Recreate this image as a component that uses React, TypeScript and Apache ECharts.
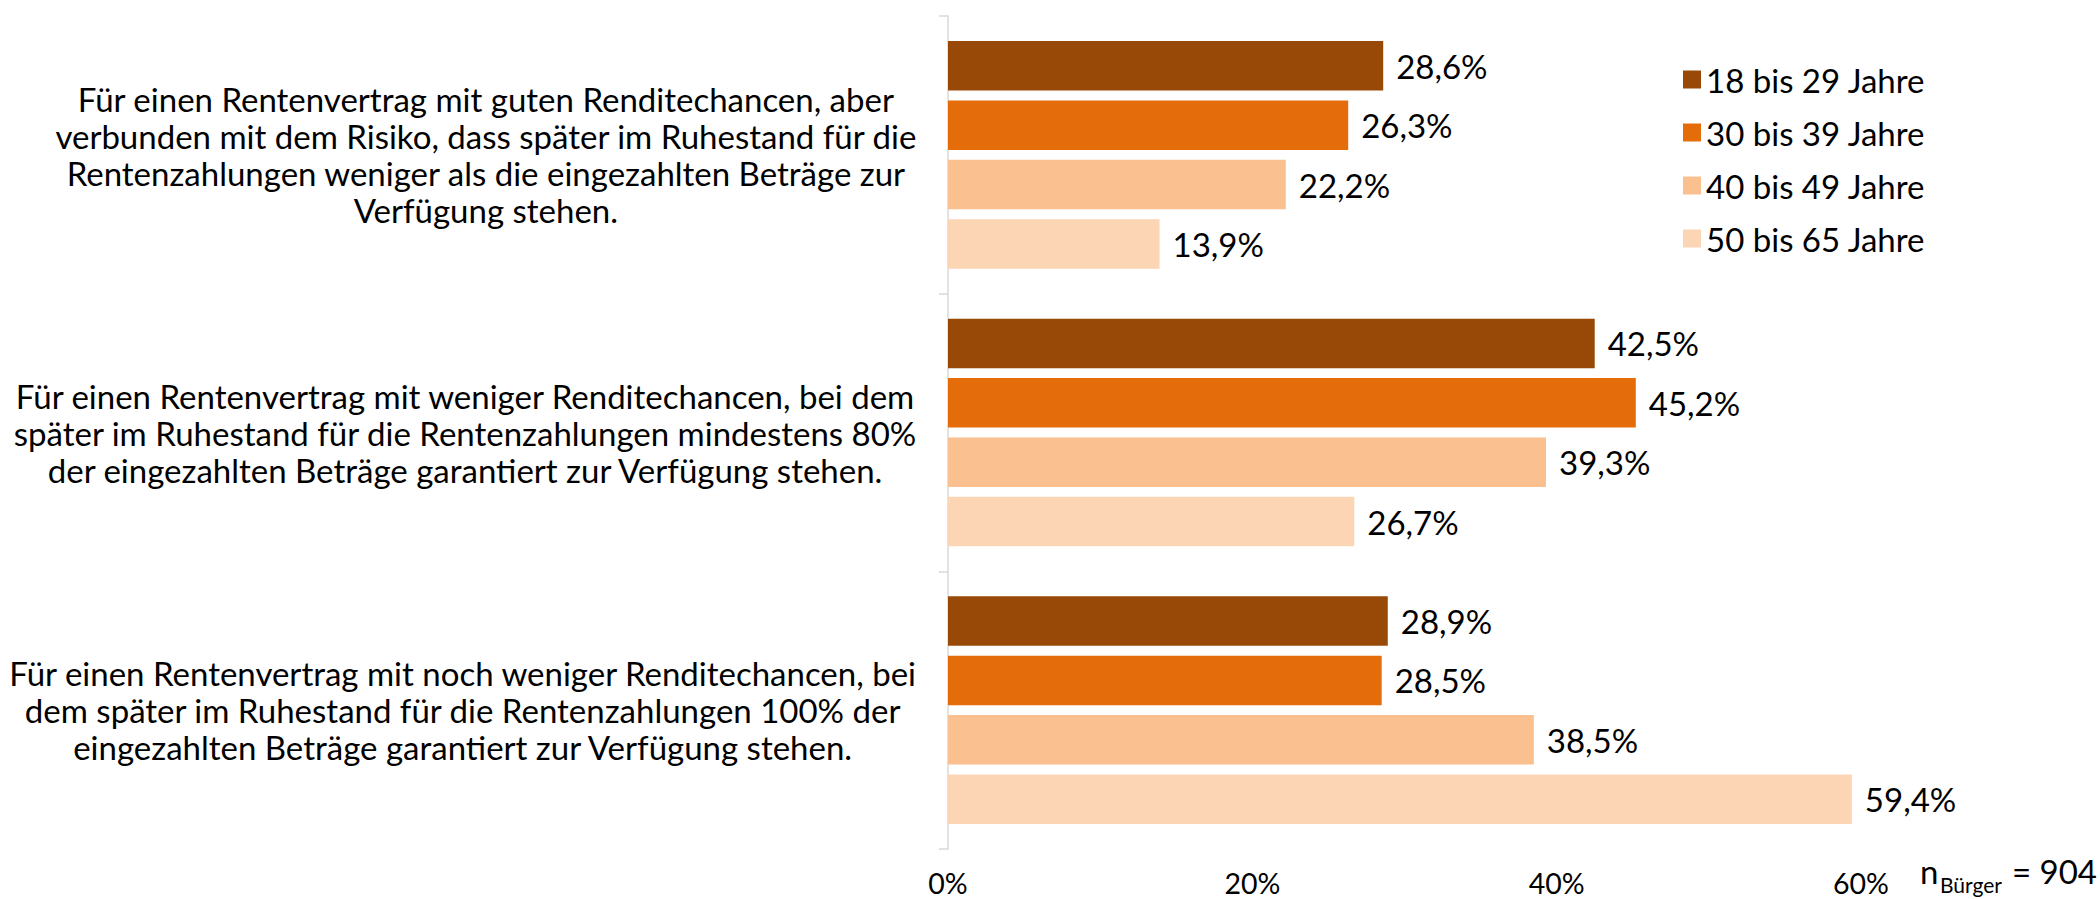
import React, { useEffect, useRef } from "react";
import * as echarts from "echarts";

const categories: string[] = [
  "Für einen Rentenvertrag mit guten Renditechancen, aber\nverbunden mit dem Risiko, dass später im Ruhestand für die\nRentenzahlungen weniger als die eingezahlten Beträge zur\nVerfügung stehen.",
  "Für einen Rentenvertrag mit weniger Renditechancen, bei dem\nspäter im Ruhestand für die Rentenzahlungen mindestens 80%\nder eingezahlten Beträge garantiert zur Verfügung stehen.",
  "Für einen Rentenvertrag mit noch weniger Renditechancen, bei\ndem später im Ruhestand für die Rentenzahlungen 100% der\neingezahlten Beträge garantiert zur Verfügung stehen.",
];

const seriesNames: string[] = ["18 bis 29 Jahre", "30 bis 39 Jahre", "40 bis 49 Jahre", "50 bis 65 Jahre"];
const age18to29: number[] = [28.6, 42.5, 28.9];
const age30to39: number[] = [26.3, 45.2, 28.5];
const age40to49: number[] = [22.2, 39.3, 38.5];
const age50to65: number[] = [13.9, 26.7, 59.4];
const seriesColors: string[] = ["#984807", "#E46C0A", "#FAC090", "#FCD5B5"];
const xTicks: number[] = [0, 20, 40, 60];
const sampleNote = { n: "n", sub: "Bürger", rest: "= 904" };

const FONT = "Lato";

export default function App() {
  const ref = useRef<HTMLDivElement>(null);
  useEffect(() => {
    if (!ref.current) return;
    const chart = echarts.init(ref.current, undefined, { renderer: "svg" });
    const values = [age18to29, age30to39, age40to49, age50to65];
    chart.setOption({
      animation: false,
      backgroundColor: "#ffffff",
      textStyle: { fontFamily: FONT },
      grid: { left: 948, top: 16, width: 913, height: 833, containLabel: false },
      legend: {
        orient: "vertical",
        left: 1678,
        top: 57,
        itemWidth: 18,
        itemHeight: 18,
        itemGap: 18,
        icon: "rect",
        data: seriesNames,
        textStyle: { fontFamily: FONT, fontSize: 33, color: "#000", lineHeight: 35 },
      },
      xAxis: {
        type: "value",
        min: xTicks[0],
        max: xTicks[xTicks.length - 1],
        interval: xTicks[1] - xTicks[0],
        splitLine: { show: false },
        axisLine: { show: false },
        axisTick: { show: false },
        axisLabel: {
          formatter: "{value}%",
          fontFamily: FONT,
          fontSize: 28.5,
          color: "#000",
          margin: 19,
        },
      },
      yAxis: {
        type: "category",
        inverse: true,
        data: categories,
        axisLine: { show: true, lineStyle: { color: "#d9d9d9", width: 1.5 } },
        axisTick: { show: true, length: 9, lineStyle: { color: "#d9d9d9", width: 1.5 } },
        axisLabel: {
          align: "right",
          margin: 31,
          formatter: (v: string) => v.split("\n").map((l) => `{c|${l}}`).join("\n"),
          rich: {
            c: { align: "center", fontFamily: FONT, fontSize: 33, lineHeight: 37, color: "#000" },
          },
        },
      },
      series: seriesNames.map((name, i) => ({
        name,
        type: "bar",
        data: values[i],
        barWidth: 49.5,
        barGap: "20%",
        itemStyle: { color: seriesColors[i] },
        label: {
          show: true,
          position: "right",
          distance: 13,
          fontFamily: FONT,
          fontSize: 33,
          color: "#000",
          formatter: (p: any) => p.value.toFixed(1).replace(".", ",") + "%",
        },
      })),
      graphic: [
        {
          type: "text",
          x: 1920,
          y: 871,
          style: { text: sampleNote.n, fontFamily: FONT, fontSize: 33, fill: "#000", verticalAlign: "middle" },
        },
        {
          type: "text",
          x: 1940,
          y: 884,
          style: { text: sampleNote.sub, fontFamily: FONT, fontSize: 21, fill: "#000", verticalAlign: "middle" },
        },
        {
          type: "text",
          x: 2012,
          y: 871,
          style: { text: sampleNote.rest, fontFamily: FONT, fontSize: 33, fill: "#000", verticalAlign: "middle" },
        },
      ],
    });
    return () => chart.dispose();
  }, []);
  return <div ref={ref} style={{ position: "fixed", left: 0, top: 0, width: 2100, height: 899, background: "#fff" }} />;
}
